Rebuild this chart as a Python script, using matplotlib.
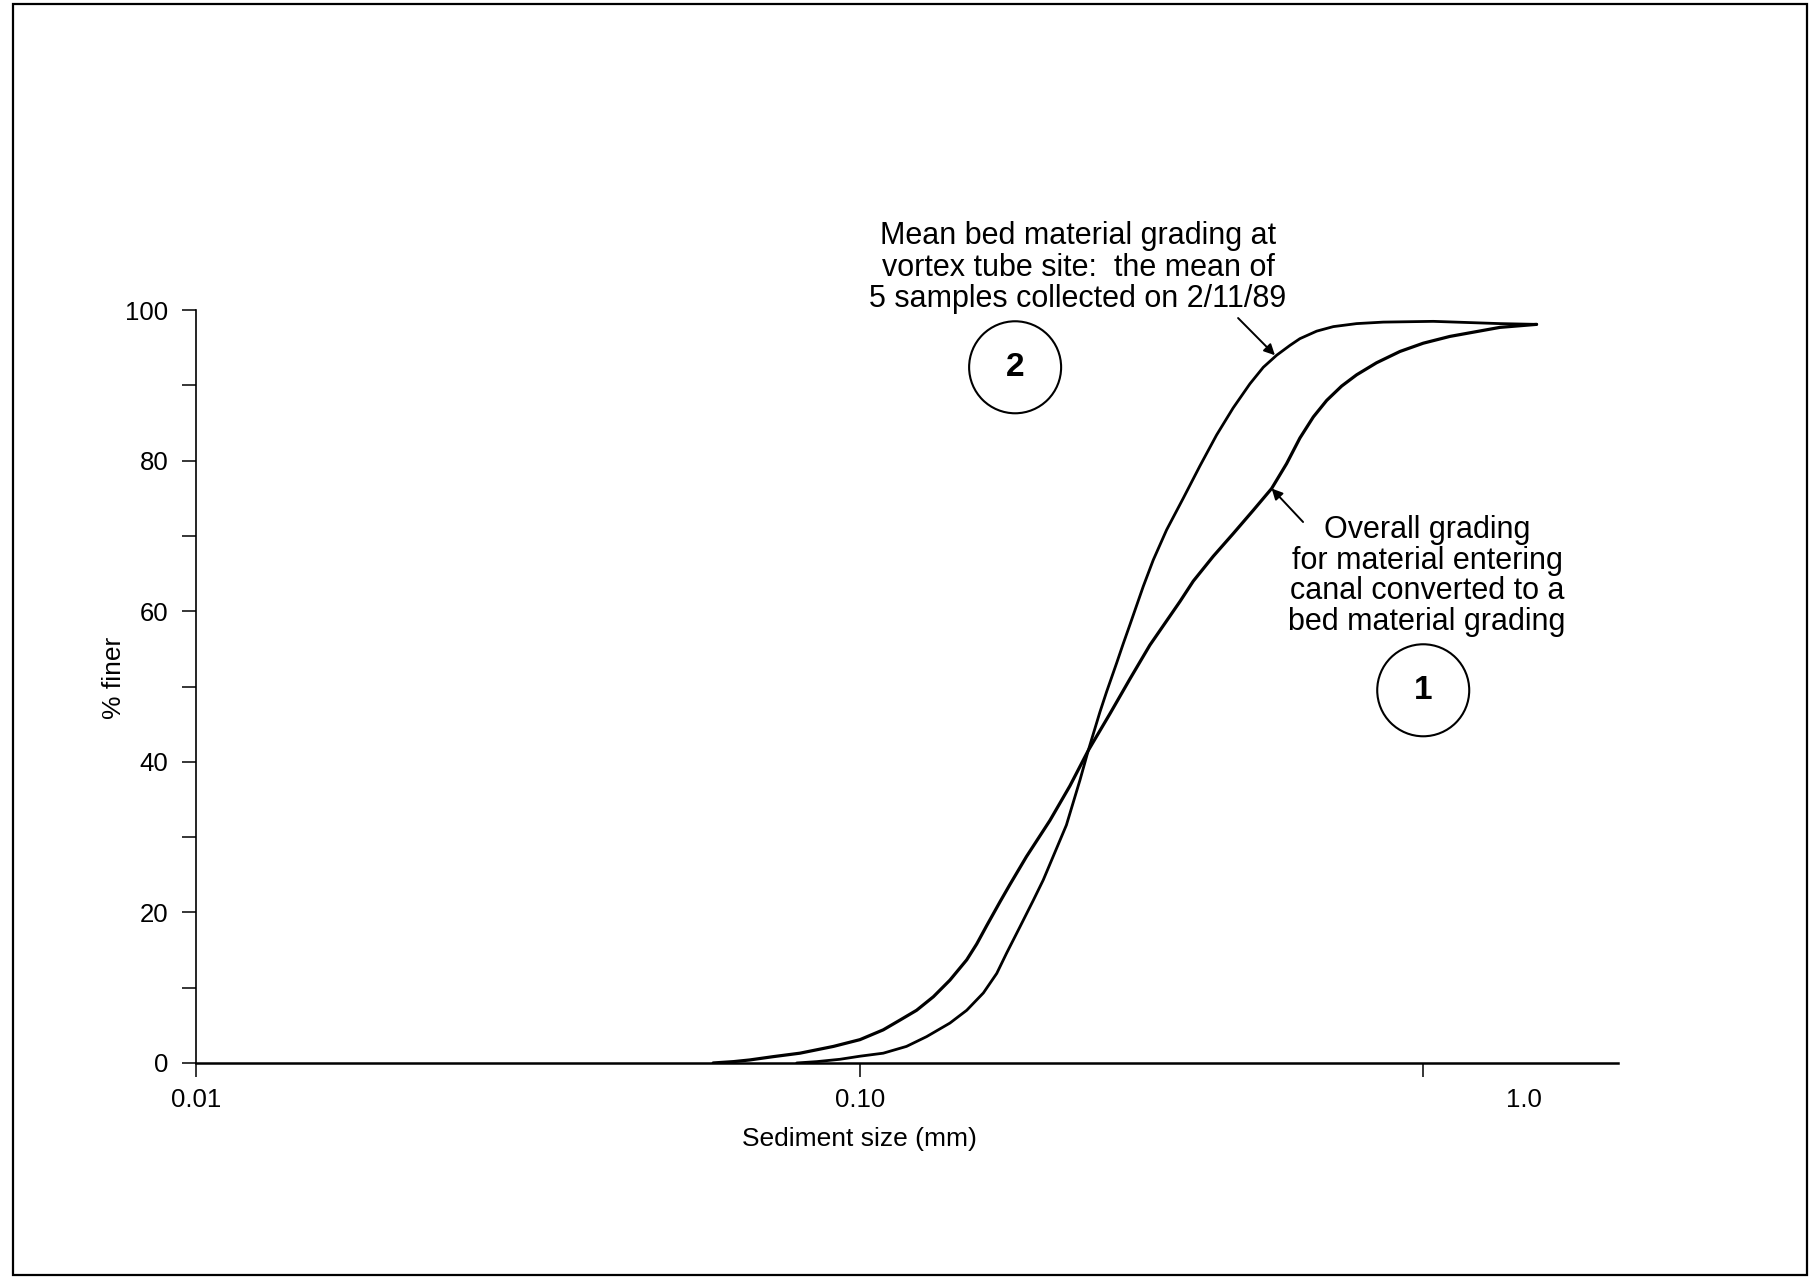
"""Sediment grading curves: overall grading vs mean bed material grading."""
import matplotlib
matplotlib.use("Agg")
import matplotlib.pyplot as plt
from matplotlib.patches import Ellipse, Rectangle

plt.rcParams["font.family"] = ["Liberation Sans", "DejaVu Sans"]

# --- curve 1: overall grading for material entering canal (bed material grading)
size_overall = [0.0601, 0.0645, 0.0682, 0.0740, 0.0812, 0.0912, 0.100, 0.1084,
                0.1149, 0.1217, 0.1290, 0.1366, 0.1448, 0.1499, 0.1551, 0.1625,
                0.1682, 0.1781, 0.1932, 0.2071, 0.2207, 0.2380, 0.2550, 0.2733,
                0.3034, 0.3177, 0.3405, 0.3648, 0.3911, 0.4169, 0.4391, 0.4598,
                0.4817, 0.5046, 0.5314, 0.5598, 0.5999, 0.6506, 0.7054, 0.7737,
                0.8437, 0.9202, 1.045]
finer_overall = [0.0, 0.18, 0.4, 0.84, 1.3, 2.2, 3.1, 4.4,
                 5.7, 7.0, 8.8, 11.0, 13.7, 15.8, 18.2, 21.4,
                 23.7, 27.4, 32.2, 36.8, 41.5, 46.4, 51.0, 55.5,
                 61.3, 64.0, 67.3, 70.3, 73.4, 76.3, 79.6, 83.0,
                 85.8, 88.0, 89.9, 91.4, 93.0, 94.5, 95.6, 96.5,
                 97.1, 97.7, 98.1]

# --- curve 2: mean bed material grading at vortex tube site
size_bed = [0.0803, 0.0861, 0.0933, 0.100, 0.1084, 0.1175, 0.1260, 0.1366,
            0.1448, 0.1534, 0.1607, 0.1663, 0.1742, 0.1824, 0.1888, 0.2046,
            0.2145, 0.2207, 0.2298, 0.2352, 0.2435, 0.2492, 0.2550, 0.2611,
            0.2671, 0.2765, 0.2896, 0.3068, 0.3251, 0.3444, 0.3648, 0.3866,
            0.4050, 0.4242, 0.4441, 0.4598, 0.4874, 0.5163, 0.5598, 0.6140,
            0.7303, 0.9202, 1.045]
finer_bed = [0.0, 0.18, 0.49, 0.9, 1.3, 2.2, 3.5, 5.3,
             7.0, 9.3, 11.9, 14.6, 18.1, 21.6, 24.3, 31.6,
             37.6, 41.5, 46.6, 49.3, 53.1, 55.7, 58.2, 60.8,
             63.3, 66.8, 70.8, 75.0, 79.3, 83.4, 87.0, 90.2,
             92.4, 94.0, 95.3, 96.2, 97.2, 97.8, 98.2, 98.4,
             98.5, 98.2, 98.1]

x_ticks = [0.01, 0.1, 1.0]
x_tick_labels = ["0.01", "0.10", "1.0"]
y_ticks = [0, 20, 40, 60, 80, 100]
y_minor = [10, 30, 50, 70, 90]

label_2 = "Mean bed material grading at\nvortex tube site:  the mean of\n5 samples collected on 2/11/89"
label_1 = "Overall grading\nfor material entering\ncanal converted to a\nbed material grading"

fig = plt.figure(figsize=(18.17, 12.77), dpi=100)
ax = fig.add_axes([0.1079, 0.1676, 0.7826, 0.5896])

ax.plot(size_overall, finer_overall, color="black", lw=2.3,
        solid_capstyle="round", solid_joinstyle="round")
ax.plot(size_bed, finer_bed, color="black", lw=2.0,
        solid_capstyle="round", solid_joinstyle="round")

ax.set_xscale("log")
ax.set_xlim(0.01, 1.386)
ax.set_ylim(0, 100)

for s in ("top", "right"):
    ax.spines[s].set_visible(False)
ax.spines["bottom"].set_linewidth(1.8)
ax.spines["left"].set_linewidth(1.2)

ax.set_xticks(x_ticks, x_tick_labels)
ax.set_xticks([0.705], minor=True)
ax.xaxis.get_major_ticks()[2].tick1line.set_visible(False)
ax.set_yticks(y_ticks, [str(v) for v in y_ticks])
ax.set_yticks(y_minor, minor=True)
ax.tick_params(axis="both", which="both", direction="out", length=10, width=1.1,
               labelsize=18.5, color="black")
ax.tick_params(axis="x", which="major", pad=8)
ax.tick_params(axis="y", which="major", pad=10)
ax.xaxis.set_minor_formatter(plt.NullFormatter())

ax.text(0.4662, -0.1015, "Sediment size (mm)", transform=ax.transAxes,
        ha="center", va="center", fontsize=19)
ax.text(-0.058, 0.511, "% finer", transform=ax.transAxes, rotation=90,
        ha="center", va="center", fontsize=19)

# annotations
ax.text(0.6203, 1.0565, label_2, transform=ax.transAxes, ha="center", va="center",
        fontsize=22, linespacing=1.08, clip_on=False)
ax.annotate("", xy=(0.4217, 94.0), xycoords="data",
            xytext=(0.7328, 0.9894), textcoords="axes fraction",
            arrowprops=dict(arrowstyle="-|>", color="black", lw=1.4,
                            mutation_scale=16, shrinkA=0, shrinkB=0))
ax.text(0.8657, 0.6467, label_1, transform=ax.transAxes, ha="center", va="center",
        fontsize=22, linespacing=1.03)
ax.annotate("", xy=(0.4169, 76.3), xycoords="data",
            xytext=(0.7785, 0.7185), textcoords="axes fraction",
            arrowprops=dict(arrowstyle="-|>", color="black", lw=1.4,
                            mutation_scale=16, shrinkA=0, shrinkB=0))

# numbered circles
for num, cx, cy in (("2", 0.576, 0.924), ("1", 0.863, 0.495)):
    ax.add_patch(Ellipse((cx, cy), 0.0647, 0.1222, transform=ax.transAxes,
                         fill=False, edgecolor="black", lw=1.5, clip_on=False))
    ax.text(cx, cy, num, transform=ax.transAxes, ha="center", va="center",
            fontsize=24, fontweight="bold", clip_on=False)

# page frame
fig.patches.append(Rectangle((0.0072, 0.0015), 0.9873, 0.9954, transform=fig.transFigure,
                             fill=False, edgecolor="black", lw=1.6))

fig.savefig("out.png", dpi=100)
